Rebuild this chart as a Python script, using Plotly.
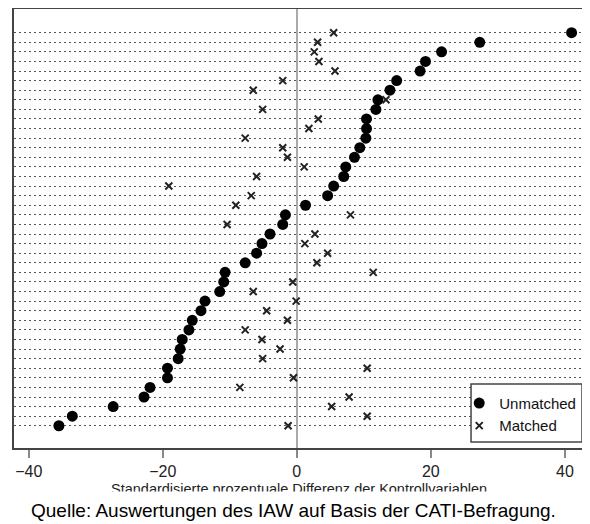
import plotly.graph_objects as go

# rows from top (1) to bottom (42)
unmatched = [41.0, 27.3, 21.6, 19.2, 18.4, 14.9, 13.9, 12.1, 11.8, 10.4,
             10.4, 10.3, 9.4, 8.6, 7.3, 7.0, 5.5, 4.6, 1.3, -1.7,
             -2.1, -4.0, -5.2, -6.0, -7.7, -10.7, -10.9, -11.5, -13.7, -14.3,
             -15.6, -16.1, -17.1, -17.4, -17.7, -19.3, -19.3, -21.9, -22.8, -27.4,
             -33.5, -35.5]
matched = [5.5, 3.1, 2.6, 3.3, 5.7, -2.1, -6.5, 13.3, -5.1, 3.2,
           1.8, -7.7, -2.1, -1.4, 1.1, -6.0, -19.1, -6.8, -9.1, 8.0,
           -10.4, 2.7, 1.2, 4.6, 3.0, 11.4, -0.6, -6.5, -0.1, -4.5,
           -1.4, -7.7, -5.2, -2.5, -5.1, 10.5, -0.5, -8.5, 7.8, 5.2,
           10.5, -1.3]
rows = list(range(len(unmatched), 0, -1))
xticks = [-40, -20, 0, 20, 40]

font = "Liberation Sans, Arial"

fig = go.Figure()
fig.add_trace(go.Scatter(x=unmatched, y=rows, mode="markers", name="Unmatched",
                         marker=dict(symbol="circle", size=11, color="black")))
fig.add_trace(go.Scatter(x=matched, y=rows, mode="markers", name="Matched",
                         marker=dict(symbol="x-thin", size=7, color="#222",
                                     line=dict(width=2, color="#222"))))

# axis title, partly hidden behind the source line (as in the original)
fig.add_annotation(x=0.498, y=-0.093, xref="paper", yref="paper", showarrow=False,
                   yanchor="middle",
                   text="Standardisierte prozentuale Differenz der Kontrollvariablen",
                   font=dict(family=font, size=14.5, color="#222"))
fig.add_annotation(x=0.488, y=-0.143, xref="paper", yref="paper", showarrow=False,
                   yanchor="middle",
                   text="Quelle: Auswertungen des IAW auf Basis der CATI-Befragung.",
                   font=dict(family=font, size=19, color="black"),
                   bgcolor="white", borderpad=8)

# legend frame (narrower than plotly's own legend box)
fig.add_shape(type="rect", xref="paper", yref="paper", x0=0.7976, x1=0.9913,
              y0=0.0137, y1=0.1458, layer="above", fillcolor="white",
              line=dict(color="#444", width=1.5))

fig.update_xaxes(range=[-42.2, 43.3], tickvals=xticks, ticks="outside", ticklen=8,
                 tickcolor="#888", tickwidth=1.5, showgrid=False, automargin=False,
                 zeroline=True, zerolinecolor="#aaa", zerolinewidth=1.5,
                 showline=True, mirror=True, linecolor="#444", linewidth=2,
                 tickfont=dict(family=font, size=16, color="#222"))
fig.update_yaxes(range=[-1.32, 44.47], tickvals=rows, showticklabels=False,
                 showgrid=True, gridcolor="#555", gridwidth=1.2, griddash="1.5px,3.5px",
                 automargin=False, zeroline=False,
                 showline=True, mirror=True, linecolor="#444", linewidth=2)

# page body has an 8px margin, so the figure is 8px smaller and the margins shifted
fig.update_layout(width=582, height=516, margin=dict(l=6, r=3, t=1, b=76),
                  plot_bgcolor="white", paper_bgcolor="white",
                  legend=dict(x=0.777, y=0.014, xanchor="left", yanchor="bottom",
                              bgcolor="rgba(0,0,0,0)", borderwidth=0,
                              font=dict(family=font, size=15, color="#111")),
                  showlegend=True)

fig.write_html("out.html")
